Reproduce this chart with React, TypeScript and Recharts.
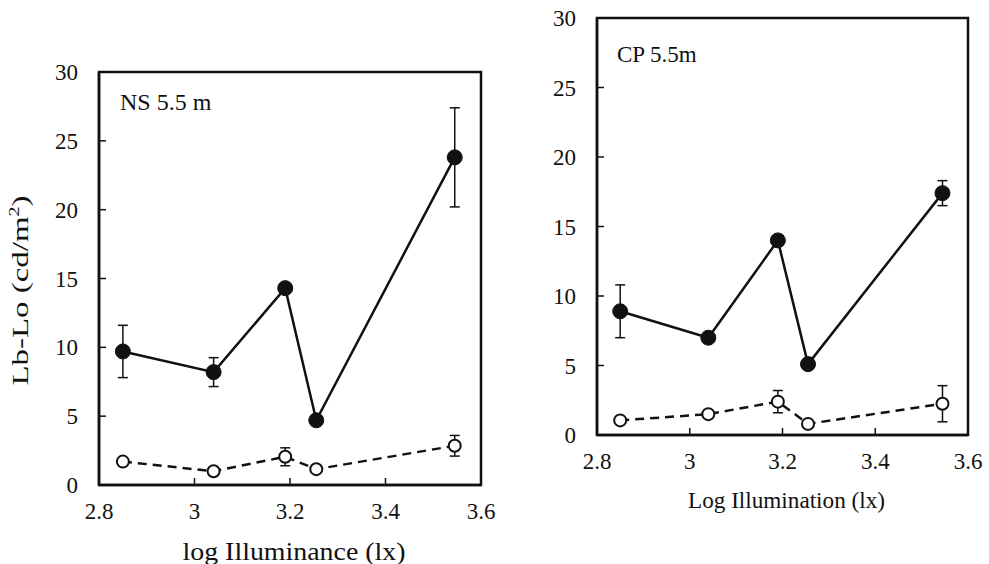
import { LineChart, Line, XAxis, YAxis, ErrorBar, ReferenceArea } from 'recharts';

// log illuminance (lx) where the measurements were taken
const logLux = [2.85, 3.04, 3.19, 3.255, 3.545];
const xTicks = [2.8, 3, 3.2, 3.4, 3.6];
const yTicks = [0, 5, 10, 15, 20, 25, 30];

// NS 5.5 m
const nsFilled = [9.7, 8.2, 14.3, 4.7, 23.8];
const nsFilledErr = [1.9, 1.05, 0, 0, 3.6];
const nsOpen = [1.7, 1.0, 2.05, 1.15, 2.85];
const nsOpenErr = [0, 0, 0.65, 0, 0.75];

// CP 5.5m
const cpFilled = [8.9, 7.0, 14.0, 5.1, 17.4];
const cpFilledErr = [1.9, 0, 0, 0.3, 0.9];
const cpOpen = [1.05, 1.5, 2.4, 0.8, 2.25];
const cpOpenErr = [0, 0, 0.8, 0, 1.3];

const FONT = "'Times New Roman', 'Liberation Serif', Times, serif";
const INK = '#111';

const buildRows = (filled: number[], filledErr: number[], open: number[], openErr: number[]) =>
    logLux.map((x, i) => ({
        x,
        filled: filled[i],
        filledErr: filledErr[i],
        open: open[i],
        openErr: openErr[i],
    }));

const XTick = (props: any) => {
    const { x, y, payload, labelOffset } = props;
    return (
        <g>
            <line x1={x} y1={y} x2={x} y2={y - 7} stroke={INK} strokeWidth={1.5} />
            <text x={x} y={y + labelOffset} textAnchor="middle" style={{ fontFamily: FONT }} fontSize={23} fill={INK}>
                {String(payload.value)}
            </text>
        </g>
    );
};

const YTick = (props: any) => {
    const { x, y, payload } = props;
    return (
        <g>
            <line x1={x} y1={y} x2={x + 7} y2={y} stroke={INK} strokeWidth={1.5} />
            <text x={x - 21} y={y} dy="0.35em" textAnchor="end" style={{ fontFamily: FONT }} fontSize={23} fill={INK}>
                {String(payload.value)}
            </text>
        </g>
    );
};

interface PanelProps {
    rows: ReturnType<typeof buildRows>;
    width: number;
    margin: { top: number; right: number; left: number; bottom: number };
    yAxisWidth: number;
    xAxisHeight: number;
    tickLabelOffset: number;
    title: string;
    titleDx: number;
    titleDy: number;
    titleSize: number;
    xTitle: string;
    xTitleDy: number;
    xTitleSize: number;
    xTitleLength: number;
    yTitle?: boolean;
}

function Panel(p: PanelProps) {
    return (
        <LineChart width={p.width} height={564} data={p.rows} margin={p.margin}>
            <XAxis
                dataKey="x"
                type="number"
                domain={[2.8, 3.6]}
                ticks={xTicks}
                interval={0}
                height={p.xAxisHeight}
                tickSize={0}
                tickMargin={0}
                tickLine={false}
                axisLine={{ stroke: INK, strokeWidth: 2.5 }}
                tick={<XTick labelOffset={p.tickLabelOffset} />}
                label={{
                    content: ({ viewBox }: any) => (
                        <text
                            x={viewBox.x + viewBox.width / 2 + 4}
                            y={viewBox.y + p.xTitleDy}
                            textAnchor="middle"
                            style={{ fontFamily: FONT }}
                            fontSize={p.xTitleSize}
                            fill={INK}
                            textLength={p.xTitleLength}
                            lengthAdjust="spacingAndGlyphs"
                        >
                            {p.xTitle}
                        </text>
                    ),
                }}
            />
            <YAxis
                type="number"
                domain={[0, 30]}
                ticks={yTicks}
                interval={0}
                width={p.yAxisWidth}
                tickSize={0}
                tickMargin={0}
                tickLine={false}
                axisLine={{ stroke: INK, strokeWidth: 2.5 }}
                tick={<YTick />}
                label={
                    p.yTitle
                        ? {
                              content: ({ viewBox }: any) => {
                                  const cx = 28;
                                  const cy = viewBox.y + viewBox.height / 2 + 12;
                                  return (
                                      <text
                                          x={cx}
                                          y={cy}
                                          transform={`rotate(-90 ${cx} ${cy})`}
                                          textAnchor="middle"
                                          style={{ fontFamily: FONT }}
                                          fontSize={23}
                                          fill={INK}
                                          textLength={190}
                                          lengthAdjust="spacingAndGlyphs"
                                      >
                                          Lb-Lo (cd/m
                                          <tspan fontSize={14} dy={-9}>2</tspan>
                                          <tspan dy={9}>)</tspan>
                                      </text>
                                  );
                              },
                          }
                        : undefined
                }
            />
            <ReferenceArea
                x1={2.8}
                x2={3.6}
                y1={0}
                y2={30}
                fill="none"
                stroke={INK}
                strokeWidth={2.5}
                label={{
                    content: ({ viewBox }: any) => (
                        <text
                            x={viewBox.x + p.titleDx}
                            y={viewBox.y + p.titleDy}
                            style={{ fontFamily: FONT }}
                            fontSize={p.titleSize}
                            fill={INK}
                        >
                            {p.title}
                        </text>
                    ),
                }}
            />
            <Line
                dataKey="open"
                stroke={INK}
                strokeWidth={2.5}
                strokeDasharray="9 6"
                dot={{ r: 6, fill: '#fff', stroke: INK, strokeWidth: 2, strokeDasharray: 'none' }}
                activeDot={false}
                isAnimationActive={false}
            >
                <ErrorBar dataKey="openErr" width={5} stroke={INK} strokeWidth={1.5} direction="y" />
            </Line>
            <Line
                dataKey="filled"
                stroke={INK}
                strokeWidth={2.5}
                dot={{ r: 7.5, fill: INK, stroke: INK, strokeWidth: 1 }}
                activeDot={false}
                isAnimationActive={false}
            >
                <ErrorBar dataKey="filledErr" width={5} stroke={INK} strokeWidth={1.5} direction="y" />
            </Line>
        </LineChart>
    );
}

export default function App() {
    const nsRows = buildRows(nsFilled, nsFilledErr, nsOpen, nsOpenErr);
    const cpRows = buildRows(cpFilled, cpFilledErr, cpOpen, cpOpenErr);

    return (
        <div style={{ position: 'absolute', left: 0, top: 0, width: 989, height: 564, background: '#fff', overflow: 'hidden' }}>
            <div style={{ position: 'absolute', left: 0, top: 0 }}>
                <Panel
                    rows={nsRows}
                    width={500}
                    margin={{ top: 72, right: 19, left: 0, bottom: 0 }}
                    yAxisWidth={99}
                    xAxisHeight={79}
                    tickLabelOffset={34}
                    title="NS 5.5 m"
                    titleDx={21}
                    titleDy={38}
                    titleSize={24}
                    xTitle="log Illuminance (lx)"
                    xTitleDy={75}
                    xTitleSize={25}
                    xTitleLength={223}
                    yTitle
                />
            </div>
            <div style={{ position: 'absolute', left: 500, top: 0 }}>
                <Panel
                    rows={cpRows}
                    width={489}
                    margin={{ top: 18, right: 21, left: 0, bottom: 0 }}
                    yAxisWidth={97}
                    xAxisHeight={129}
                    tickLabelOffset={34}
                    title="CP 5.5m"
                    titleDx={20}
                    titleDy={44}
                    titleSize={23}
                    xTitle="Log Illumination (lx)"
                    xTitleDy={73}
                    xTitleSize={24}
                    xTitleLength={197}
                />
            </div>
        </div>
    );
}
